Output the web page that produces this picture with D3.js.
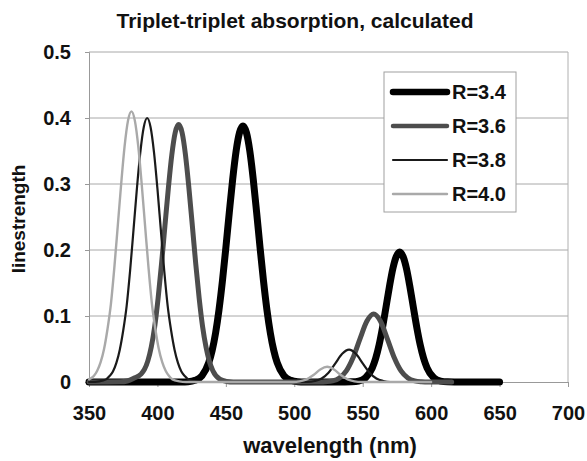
<!DOCTYPE html>
<html><head><meta charset="utf-8">
<script src="https://cdn.jsdelivr.net/npm/d3@7/dist/d3.min.js"></script>
<style>
body{margin:0;background:#fff;}
svg text{font-family:"Liberation Sans",Arial,sans-serif;font-weight:bold;fill:#111;}
</style></head><body>
<svg id="chart" width="587" height="461"></svg>
<script>
const seriesNames = ["R=3.4", "R=3.6", "R=3.8", "R=4.0"];
const xTicks = [350, 400, 450, 500, 550, 600, 650, 700];
const yTicks = [0, 0.1, 0.2, 0.3, 0.4, 0.5];

const r34_wl = [350,417.5,422.5,427.5,432.5,437.5,440,442.5,445,447.5,450,452.5,455,457.5,460,462.5,465,467.5,470,472.5,475,477.5,480,482.5,485,487.5,492.5,497.5,502.5,507.5,537,542,547,552,557,559.5,562,564.5,567,569.5,572,574.5,577,579.5,582,584.5,587,589.5,592,594.5,597,602,607,612,617,650];
const r34_val = [0,0.0001,0.0005,0.0025,0.0094,0.0293,0.0479,0.0743,0.1095,0.1531,0.2034,0.2567,0.3075,0.350,0.378,0.388,0.378,0.350,0.3075,0.2567,0.2034,0.1531,0.1095,0.0743,0.0479,0.0293,0.0094,0.0025,0.0005,0.0001,0,0.0002,0.0013,0.0062,0.0215,0.0361,0.0565,0.0829,0.1133,0.1442,0.1716,0.190,0.197,0.190,0.1716,0.1442,0.1133,0.0829,0.0565,0.0361,0.0215,0.0062,0.0013,0.0002,0,0];

const r36_wl = [350,373,378,383,388,390.5,393,395.5,398,400.5,403,405.5,408,410.5,413,415.5,418,420.5,423,425.5,428,430.5,433,435.5,438,440.5,445.5,450.5,455.5,520,523,528,533,538,543,548,553,558,563,568,573,578,583,588,593,598,615];
const r36_val = [0,0.0002,0.0015,0.006,0.012,0.019,0.032,0.053,0.084,0.127,0.179,0.237,0.294,0.344,0.378,0.390,0.378,0.344,0.294,0.237,0.179,0.127,0.084,0.053,0.031,0.017,0.0043,0.0009,0.0001,0,0.0004,0.0017,0.0061,0.0168,0.0371,0.0654,0.092,0.103,0.092,0.0654,0.0371,0.0168,0.0061,0.0017,0.0004,0,0];

const r38_wl = [350,357.5,362.5,365,367.5,370,372.5,375,377.5,380,382.5,385,387.5,390,392.5,395,397.5,400,402.5,405,407.5,410,412.5,415,417.5,420,422.5,427.5,432.5,510,515,520,525,530,535,540,545,550,555,560,565,570,600];
const r38_val = [0,0.001,0.004,0.009,0.016,0.029,0.049,0.078,0.115,0.168,0.230,0.293,0.348,0.386,0.400,0.386,0.348,0.293,0.230,0.168,0.115,0.078,0.049,0.029,0.016,0.009,0.004,0.001,0,0,0.0015,0.0053,0.0141,0.0282,0.0427,0.049,0.0427,0.0282,0.0141,0.0053,0.0015,0,0];

const r40_wl = [350,353.5,356,358.5,361,363.5,366,368.5,371,373.5,376,378.5,381,383.5,386,388.5,391,393.5,396,398.5,401,403.5,406,408.5,411,416,421,499,504,509,514,519,524,529,534,539,544,549,600];
const r40_val = [0.004,0.009,0.017,0.030,0.050,0.080,0.118,0.173,0.236,0.300,0.357,0.396,0.410,0.396,0.357,0.300,0.236,0.173,0.118,0.080,0.050,0.030,0.017,0.009,0.004,0.001,0,0,0.001,0.004,0.0105,0.019,0.023,0.019,0.0105,0.004,0.001,0,0];

const series = [
  {name: seriesNames[0], wl: r34_wl, val: r34_val, color: "#000", width: 7, lw: 6.5},
  {name: seriesNames[1], wl: r36_wl, val: r36_val, color: "#4d4d4d", width: 5, lw: 4.5},
  {name: seriesNames[2], wl: r38_wl, val: r38_val, color: "#1a1a1a", width: 2.2, lw: 2.2},
  {name: seriesNames[3], wl: r40_wl, val: r40_val, color: "#a9a9a9", width: 2.4, lw: 2.4}
];

const svg = d3.select("#chart");
const L = 89, R = 568, T = 52, B = 382;
const x = d3.scaleLinear().domain([350, 700]).range([L, R]);
const y = d3.scaleLinear().domain([0, 0.5]).range([B, T]);

// gridlines
svg.append("g").selectAll("line").data(yTicks.filter(d => d > 0)).join("line")
  .attr("x1", L).attr("x2", R).attr("y1", d => y(d)).attr("y2", d => y(d))
  .attr("stroke", "#a8a8a8").attr("stroke-width", 1);
// right border
svg.append("line").attr("x1", R).attr("x2", R).attr("y1", T).attr("y2", B)
  .attr("stroke", "#b0b0b0");

// axes
const xAxis = svg.append("g").attr("transform", `translate(0,${B})`)
  .call(d3.axisBottom(x).tickValues(xTicks).tickSize(5).tickPadding(19).tickFormat(d3.format("d")));
xAxis.selectAll("text").style("font-size", "20px");
const yAxis = svg.append("g").attr("transform", `translate(${L},0)`)
  .call(d3.axisLeft(y).tickValues(yTicks).tickSize(4).tickPadding(14).tickFormat(d => d === 0 ? "0" : d3.format(".1f")(d)));
yAxis.selectAll("text").style("font-size", "20px");
svg.selectAll(".domain, .tick line").attr("stroke", "#999");

// lines
const line = d3.line().x(d => x(d[0])).y(d => y(d[1])).curve(d3.curveMonotoneX);
svg.append("g").selectAll("path").data(series).join("path")
  .attr("d", s => line(s.wl.map((w, i) => [w, s.val[i]])))
  .attr("fill", "none").attr("stroke", s => s.color).attr("stroke-width", s => s.width)
  .attr("stroke-linejoin", "round").attr("stroke-linecap", "round");

// legend
const lg = svg.append("g");
lg.append("rect").attr("x", 384).attr("y", 72).attr("width", 132).attr("height", 140)
  .attr("fill", "#fff").attr("stroke", "#a0a0a0");
series.forEach((s, i) => {
  const yy = 92 + i * 34;
  lg.append("line").attr("x1", 393).attr("x2", 447).attr("y1", yy).attr("y2", yy)
    .attr("stroke", s.color).attr("stroke-width", s.lw).attr("stroke-linecap", "round");
  lg.append("text").attr("x", 452).attr("y", yy).attr("dy", "0.36em")
    .style("font-size", "20px").text(s.name);
});

// titles
svg.append("text").attr("x", 295).attr("y", 28).attr("text-anchor", "middle")
  .style("font-size", "21px").text("Triplet-triplet absorption, calculated");
svg.append("text").attr("x", 330).attr("y", 453).attr("text-anchor", "middle")
  .style("font-size", "22px").text("wavelength (nm)");
svg.append("text").attr("transform", "translate(25,219) rotate(-90)").attr("text-anchor", "middle")
  .style("font-size", "19px").text("linestrength");
</script>
</body></html>
